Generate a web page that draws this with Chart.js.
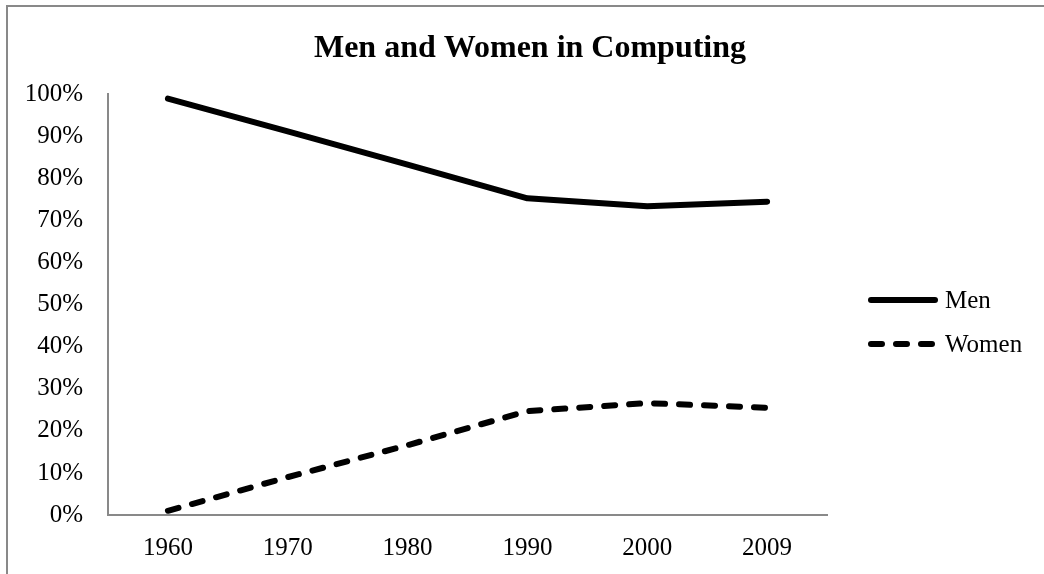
<!DOCTYPE html>
<html>
<head>
<meta charset="utf-8">
<title>Men and Women in Computing</title>
<script src="https://cdn.jsdelivr.net/npm/chart.js@4/dist/chart.umd.min.js"></script>
<style>
  html, body { margin: 0; padding: 0; background: #fff; }
  canvas { display: block; }
</style>
</head>
<body>
<canvas id="computingChart" width="1044" height="574"></canvas>
<script>
// data
var years = ['1960', '1970', '1980', '1990', '2000', '2009'];
var menShare = [99.0, 91.2, 83.3, 75.3, 73.4, 74.5];
var womenShare = [1.0, 9.0, 16.6, 24.7, 26.6, 25.5];
var seriesNames = ['Men', 'Women'];

var serif = "'Liberation Serif', 'Times New Roman', serif";
var axisGray = '#898989';

// outer frame of the chart (only top/left edges fall inside the picture)
var framePlugin = {
  id: 'frame',
  beforeDraw: function (chart) {
    var ctx = chart.ctx;
    ctx.save();
    ctx.strokeStyle = axisGray;
    ctx.lineWidth = 2;
    ctx.strokeRect(7, 6, chart.width + 20, chart.height + 20);
    ctx.restore();
  }
};

// legend drawn at the right, using each dataset's own line style
var sideLegend = {
  id: 'sideLegend',
  afterDraw: function (chart) {
    var ctx = chart.ctx;
    var x0 = chart.chartArea.right + 44;
    var rows = [300, 344];
    ctx.save();
    chart.data.datasets.forEach(function (ds, i) {
      var y = rows[i];
      ctx.beginPath();
      ctx.strokeStyle = ds.borderColor;
      ctx.lineWidth = ds.borderWidth;
      ctx.lineCap = ds.borderCapStyle;
      ctx.setLineDash(ds.borderDash || []);
      ctx.moveTo(x0, y);
      ctx.lineTo(x0 + 64, y);
      ctx.stroke();
      ctx.setLineDash([]);
      ctx.fillStyle = '#000';
      ctx.font = '25px ' + serif;
      ctx.textBaseline = 'middle';
      ctx.textAlign = 'left';
      ctx.fillText(ds.label, x0 + 74, y + 1);
    });
    ctx.restore();
  }
};

var ctx = document.getElementById('computingChart').getContext('2d');

var computingChart = new Chart(ctx, {
  type: 'line',
  data: {
    labels: years,
    datasets: [{
      label: seriesNames[0],
      data: menShare,
      borderColor: '#000',
      borderWidth: 6,
      borderCapStyle: 'round',
      borderJoinStyle: 'round',
      pointRadius: 0,
      tension: 0,
      fill: false
    }, {
      label: seriesNames[1],
      data: womenShare,
      borderColor: '#000',
      borderWidth: 6,
      borderDash: [11, 14],
      borderCapStyle: 'round',
      borderJoinStyle: 'round',
      pointRadius: 0,
      tension: 0,
      fill: false
    }]
  },
  options: {
    responsive: false,
    animation: false,
    layout: {
      padding: { left: 16, right: 0, top: 0, bottom: 0 }
    },
    plugins: {
      legend: { display: false },
      tooltip: { enabled: false },
      title: {
        display: true,
        text: 'Men and Women in Computing',
        color: '#000',
        font: { family: serif, size: 32, weight: 'bold' },
        padding: { top: 30, bottom: 26 }
      }
    },
    scales: {
      x: {
        offset: true,
        grid: { display: false, drawTicks: false, tickLength: 0 },
        border: { display: true, color: axisGray, width: 2 },
        ticks: {
          color: '#000',
          padding: 18,
          font: { family: serif, size: 25 }
        },
        afterFit: function (scale) { scale.height = 59; }
      },
      y: {
        min: 0,
        max: 100,
        grid: { display: false, drawTicks: false, tickLength: 0 },
        border: { display: true, color: axisGray, width: 2 },
        ticks: {
          stepSize: 10,
          color: '#000',
          padding: 25,
          font: { family: serif, size: 25 },
          callback: function (v) { return v + '%'; }
        },
        afterFit: function (scale) { scale.width = 92; }
      },
      // empty right-hand axis that only reserves room for the legend
      legendSpace: {
        position: 'right',
        min: 0,
        max: 100,
        grid: { display: false, drawTicks: false },
        border: { display: false },
        ticks: { display: false },
        afterFit: function (scale) { scale.width = 217; }
      }
    }
  },
  plugins: [framePlugin, sideLegend]
});
</script>
</body>
</html>
